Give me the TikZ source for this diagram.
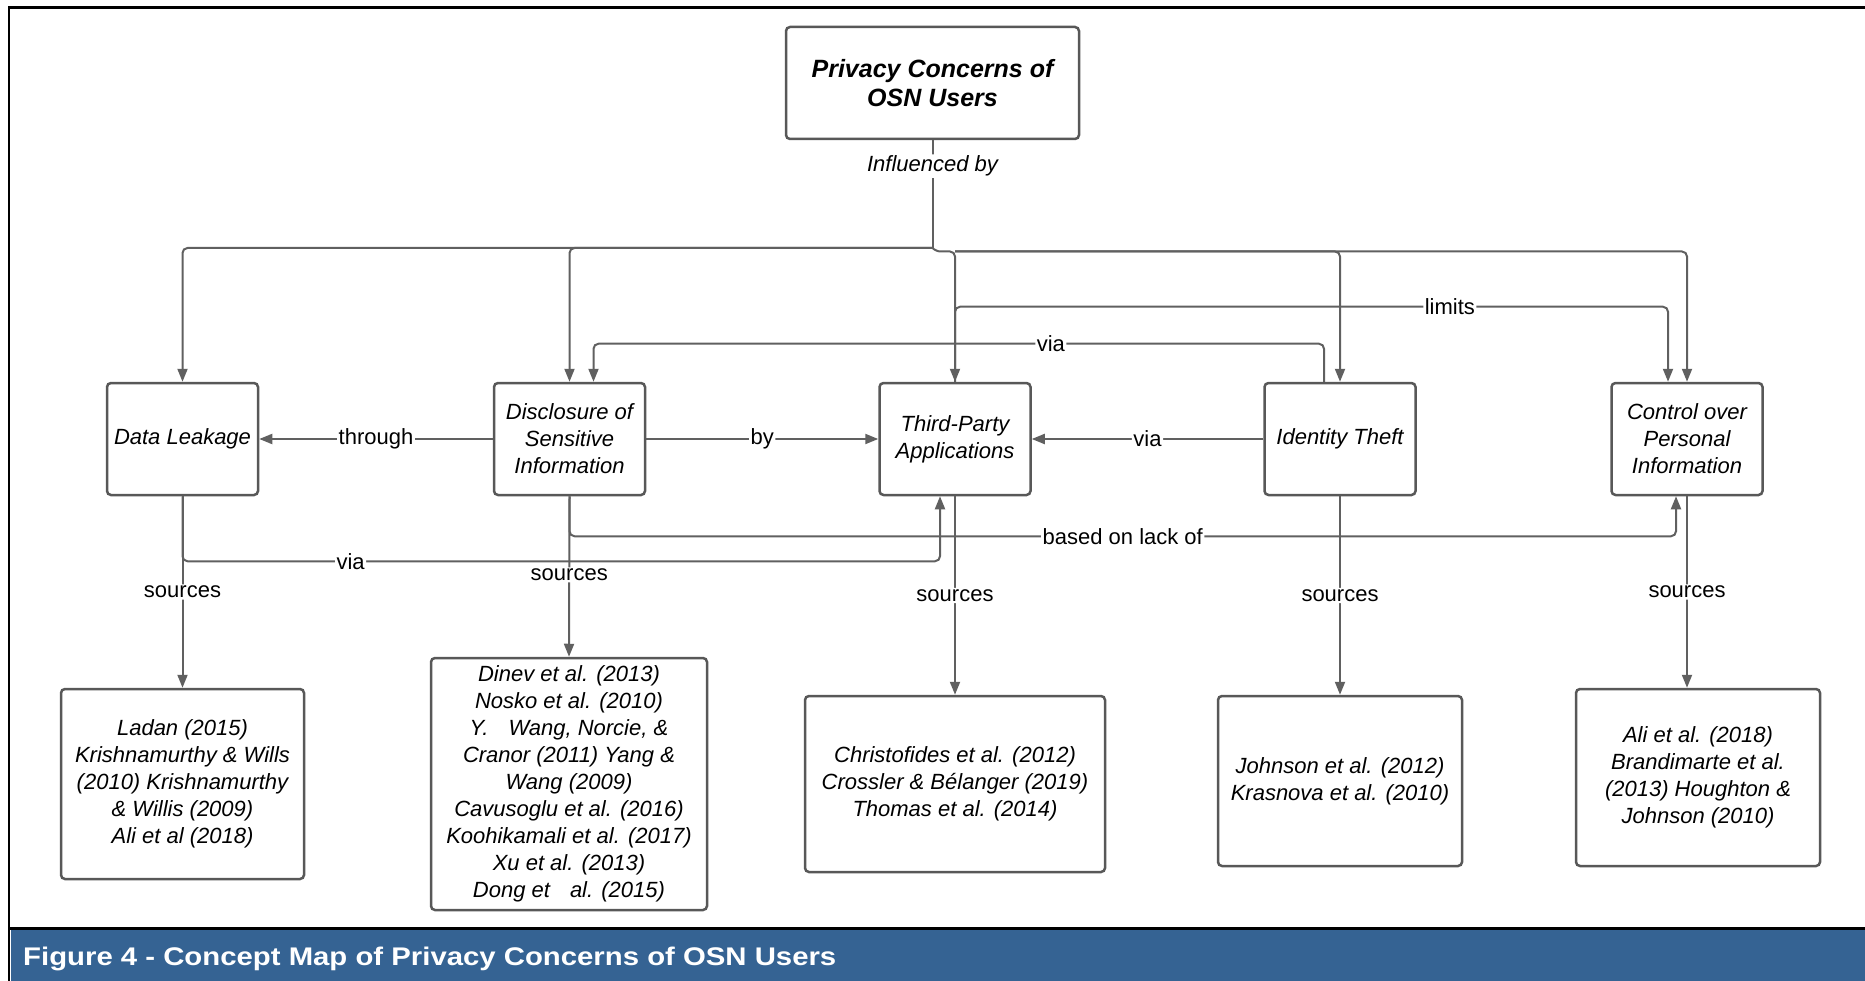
\documentclass[tikz,border=0pt]{standalone}
\usepackage{fontspec}
\setmainfont{Liberation Sans}
\newfontfamily\capfont[FakeStretch=1.15]{Liberation Sans}
\usetikzlibrary{arrows.meta}
\definecolor{boxgray}{RGB}{88,88,88}
\definecolor{linegray}{RGB}{96,96,96}
\definecolor{capblue}{RGB}{53,99,147}

\begin{document}
\begin{tikzpicture}[x=1pt,y=-1pt,
	concept/.style={draw=boxgray,line width=2.5pt,rounded corners=4pt,fill=white,align=center,inner sep=0pt,font=\itshape\fontsize{22}{27}\selectfont},
	level/.style={concept,minimum width=151pt,minimum height=112pt},
	conn/.style={draw=linegray,line width=2pt,rounded corners=5pt},
	arr/.style={-{Triangle[length=13pt,width=10pt]}},
	lbl/.style={fill=white,inner sep=1.5pt,font=\fontsize{22}{26}\selectfont}]
	\useasboundingbox (0,0) rectangle (1865,981);
	% frame and caption bar
	\draw [black,line width=2.5pt] (9,981) -- (9,7.5) -- (1865,7.5);
	\draw [black,line width=3pt] (9,928.5) -- (1865,928.5);
	\fill [capblue] (10.5,930) rectangle (1865,981);
	\node [anchor=base west,inner sep=0pt,text=white,font=\capfont\bfseries\fontsize{25.5}{30}\selectfont] (caption) at (23,965) {Figure 4 - Concept Map of Privacy Concerns of OSN Users};
	% concepts
	\node [concept,font=\bfseries\itshape\fontsize{25}{29}\selectfont,minimum width=293pt,minimum height=112pt] (osn) at (932.5,83) {Privacy Concerns of\\OSN Users};
	\node [level] (leak) at (182.5,439) {Data Leakage};
	\node [level] (disc) at (569.5,439) {Disclosure of\\Sensitive\\Information};
	\node [level] (apps) at (955,439) {Third-Party\\Applications};
	\node [level] (theft) at (1340,439) {Identity Theft};
	\node [level] (ctrl) at (1687,439) {Control over\\Personal\\Information};
	% sources
	\node [concept,minimum width=243pt,minimum height=190pt] (srcleak) at (182.5,784) {Ladan (2015)\\Krishnamurthy \& Wills\\(2010) Krishnamurthy\\\& Willis (2009)\\Ali et al (2018)};
	\node [concept,minimum width=276pt,minimum height=252pt] (srcdisc) at (569,784) {Dinev et al. (2013)\\Nosko et al. (2010)\\Y.\hspace{20pt}Wang, Norcie, \&\\Cranor (2011) Yang \&\\Wang (2009)\\Cavusoglu et al. (2016)\\Koohikamali et al. (2017)\\Xu et al. (2013)\\Dong et\hspace{20pt}al. (2015)};
	\node [concept,minimum width=300pt,minimum height=176pt] (srcapps) at (955,784) {Christofides et al. (2012)\\Crossler \& Bélanger (2019)\\Thomas et al. (2014)};
	\node [concept,minimum width=244pt,minimum height=170pt] (srctheft) at (1340,781) {Johnson et al. (2012)\\Krasnova et al. (2010)};
	\node [concept,minimum width=244pt,minimum height=177pt] (srcctrl) at (1698,777.5) {Ali et al. (2018)\\Brandimarte et al.\\(2013) Houghton \&\\Johnson (2010)};
	% influenced by
	\coordinate (hub) at (932.5,248);
	\coordinate (hubr) at (955,251.5);
	\draw [conn] (osn.south) -- node [lbl,pos=0.24,font=\itshape\fontsize{22}{26}\selectfont] {Influenced by} (hub);
	\draw [conn,arr] (hub) -| (leak.north);
	\draw [conn,arr] (hub) -| (disc.north);
	\draw [conn,arr] (hub) -- ++(3,3.5) -| (apps.north);
	\draw [conn,arr] (hubr) -| (theft.north);
	\draw [conn,arr] (hubr) -| (ctrl.north);
	% links between concepts
	\draw [conn,arr] (apps.north) -- ++(0,-75) -| node [lbl,pos=0.347] {limits} ([xshift=-19pt]ctrl.north);
	\draw [conn,arr] ([xshift=-16pt]theft.north) -- ++(0,-38) -| node [lbl,pos=0.187] {via} ([xshift=24pt]disc.north);
	\draw [conn,arr] (disc.west) -- node [lbl] {through} (leak.east);
	\draw [conn,arr] (disc.east) -- node [lbl] {by} (apps.west);
	\draw [conn,arr] (theft.west) -- node [lbl] {via} (apps.east);
	\draw [conn,arr] (leak.south) -- node [lbl] {sources} (srcleak.north);
	\draw [conn,arr] (disc.south) -- node [lbl,pos=0.49] {sources} (srcdisc.north);
	\draw [conn,arr] (apps.south) -- node [lbl] {sources} (srcapps.north);
	\draw [conn,arr] (theft.south) -- node [lbl] {sources} (srctheft.north);
	\draw [conn,arr] (ctrl.south) -- node [lbl] {sources} (ctrl.south |- srcctrl.north);
	\draw [conn,arr] (disc.south) -- ++(0,40) -| node [lbl,pos=0.25] {based on lack of} ([xshift=-11pt]ctrl.south);
	\draw [conn,arr] (leak.south) -- ++(0,65) -| node [lbl,pos=0.111] {via} ([xshift=-15pt]apps.south);
\end{tikzpicture}
\end{document}
